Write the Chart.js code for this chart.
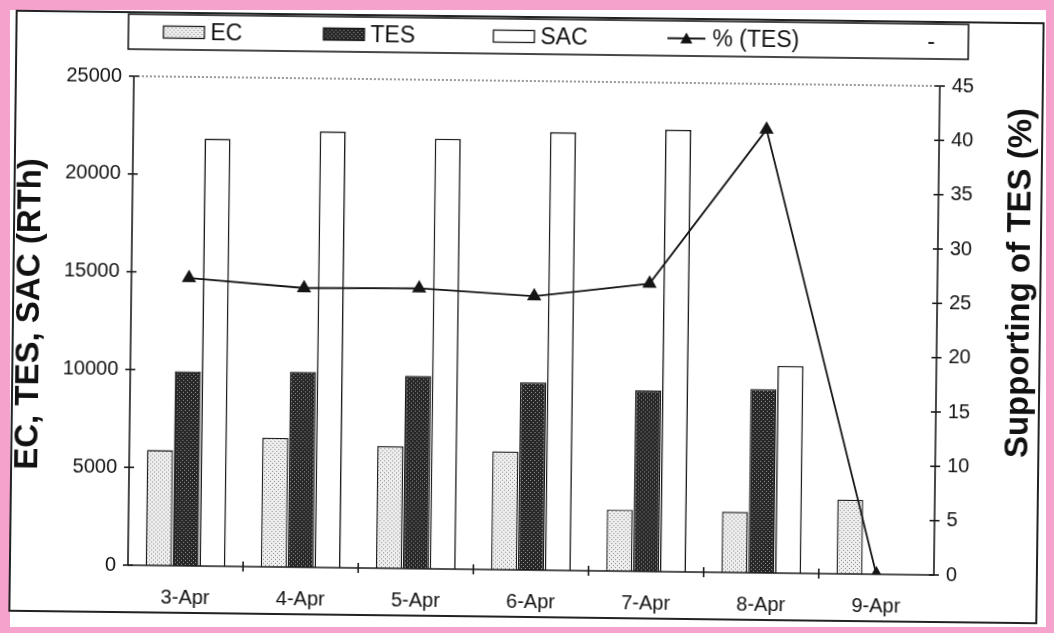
<!DOCTYPE html>
<html>
<head>
<meta charset="utf-8">
<script src="https://cdn.jsdelivr.net/npm/chart.js@4/dist/chart.umd.min.js"></script>
<style>
  html, body { margin: 0; padding: 0; width: 1054px; height: 633px; overflow: hidden; background: #f5a3cd; }
  #paper { position: absolute; left: 10px; top: 10px; width: 1036px; height: 617px; background: #ffffff; }
  #wrap { position: absolute; left: 0; top: 0; width: 1054px; height: 633px; transform: rotate(0.7deg); transform-origin: 527px 316px; }
  #frame { position: absolute; left: 12px; top: 16px; width: 1029px; height: 602px; border: 2px solid #222; box-sizing: border-box; }
  canvas { position: absolute; left: 0; top: 0; }
</style>
</head>
<body>
<div id="paper"></div>
<div id="wrap">
  <div id="frame"></div>
  <canvas id="chart" width="1054" height="633"></canvas>
</div>
<script>
// Daily cooling load split (RTh) and share supported by TES (%)
const categories = ['3-Apr', '4-Apr', '5-Apr', '6-Apr', '7-Apr', '8-Apr', '9-Apr'];
const ecValues   = [5900, 6600, 6250, 6050, 3150, 3100, 3800];
const tesValues  = [9950, 10000, 9850, 9600, 9250, 9400, 0];
const sacValues  = [21850, 22300, 22000, 22400, 22600, 10600, 0];
const tesPercent = [26.5, 25.7, 25.8, 25.2, 26.5, 40.8, 0];

const leftAxisMax = 25000, leftAxisStep = 5000;
const rightAxisMax = 45, rightAxisStep = 5;
const leftTitle = 'EC, TES, SAC (RTh)';
const rightTitle = 'Supporting of TES (%)';

const canvas = document.getElementById('chart');
const ctx = canvas.getContext('2d');

function makePattern(bg, dot, size, pts) {
  const c = document.createElement('canvas');
  c.width = size; c.height = size;
  const g = c.getContext('2d');
  g.fillStyle = bg; g.fillRect(0, 0, size, size);
  g.fillStyle = dot;
  pts.forEach(([x, y]) => g.fillRect(x, y, 1, 1));
  return ctx.createPattern(c, 'repeat');
}
const ecFill  = makePattern('#eeeeee', '#8c8c8c', 4, [[0, 0], [2, 2]]);
const tesFill = makePattern('#262626', '#9a9a9a', 4, [[0, 0], [2, 2]]);
const sacFill = '#ffffff';

const FONT = '"Liberation Sans", Arial, sans-serif';

// axis lines with crossing tick marks, dotted top edge, rotated titles, boxed legend
const decorations = {
  id: 'decorations',
  afterDatasetsDraw(chart) {
    const { ctx: c, chartArea: a, scales } = chart;
    c.save();
    c.strokeStyle = '#1a1a1a';
    c.lineWidth = 1.6;
    [[a.left, scales.y], [a.right, scales.y1]].forEach(([x, s]) => {
      c.beginPath(); c.moveTo(x, a.top); c.lineTo(x, a.bottom); c.stroke();
      s.ticks.forEach((t, i) => {
        const y = s.getPixelForTick(i);
        c.beginPath(); c.moveTo(x - 5, y); c.lineTo(x + 5, y); c.stroke();
      });
    });
    c.beginPath(); c.moveTo(a.left, a.bottom); c.lineTo(a.right, a.bottom); c.stroke();
    const xs = scales.x;
    for (let i = 1; i < categories.length; i++) {
      const x = (xs.getPixelForTick(i - 1) + xs.getPixelForTick(i)) / 2;
      c.beginPath(); c.moveTo(x, a.bottom - 5); c.lineTo(x, a.bottom + 5); c.stroke();
    }
    c.setLineDash([2, 2]);
    c.lineWidth = 1.2;
    c.strokeStyle = '#555';
    c.beginPath(); c.moveTo(a.left, a.top); c.lineTo(a.right, a.top); c.stroke();
    c.setLineDash([]);
    c.restore();
  },
  afterDraw(chart) {
    const { ctx: c, chartArea: a } = chart;
    c.save();
    c.fillStyle = '#111';
    c.font = 'bold 33px ' + FONT;
    c.textAlign = 'center';
    c.textBaseline = 'middle';
    c.save(); c.translate(30, 320); c.rotate(-Math.PI / 2); c.fillText(leftTitle, 0, 0); c.restore();
    c.save(); c.translate(1020, 277); c.rotate(-Math.PI / 2); c.fillText(rightTitle, 0, 0); c.restore();

    // legend
    const box = { x: 125, y: 19, w: 840, h: 35 };
    c.strokeStyle = '#1a1a1a';
    c.lineWidth = 1.6;
    c.strokeRect(box.x, box.y, box.w, box.h);
    const cy = box.y + box.h / 2;
    c.font = '23px ' + FONT;
    c.textAlign = 'left';
    const ds = chart.data.datasets;
    const barItems = [[ds[1], 160], [ds[2], 320], [ds[3], 490]];
    barItems.forEach(([d, x]) => {
      c.fillStyle = d.backgroundColor;
      c.fillRect(x, cy - 6, 41, 12);
      c.lineWidth = 1.3;
      c.strokeRect(x, cy - 6, 41, 12);
      c.fillStyle = '#111';
      c.fillText(d.label, x + 47, cy + 1);
    });
    const lx = 664;
    c.lineWidth = 1.8;
    c.beginPath(); c.moveTo(lx, cy); c.lineTo(lx + 38, cy); c.stroke();
    c.fillStyle = '#111';
    c.beginPath(); c.moveTo(lx + 19, cy - 6); c.lineTo(lx + 25, cy + 5); c.lineTo(lx + 13, cy + 5); c.closePath(); c.fill();
    c.fillText(ds[0].label, lx + 45, cy + 1);
    c.fillText('-', 924, cy + 1);
    c.restore();
  }
};

const plainNumber = v => String(v);

new Chart(ctx, {
  data: {
    labels: categories,
    datasets: [
      {
        type: 'line', label: '% (TES)', data: tesPercent, yAxisID: 'y1', order: 0,
        borderColor: '#151515', borderWidth: 1.8, tension: 0,
        pointStyle: 'triangle', pointRadius: 6.5, pointBackgroundColor: '#151515', pointBorderColor: '#151515'
      },
      { type: 'bar', label: 'EC',  data: ecValues,  yAxisID: 'y', order: 1, backgroundColor: ecFill,  borderColor: '#1a1a1a', borderWidth: 1.4 },
      { type: 'bar', label: 'TES', data: tesValues, yAxisID: 'y', order: 1, backgroundColor: tesFill, borderColor: '#1a1a1a', borderWidth: 1.4 },
      { type: 'bar', label: 'SAC', data: sacValues, yAxisID: 'y', order: 1, backgroundColor: sacFill, borderColor: '#1a1a1a', borderWidth: 1.6 }
    ]
  },
  options: {
    responsive: false,
    animation: false,
    devicePixelRatio: 1,
    layout: { padding: { top: 81, left: 0, right: 0, bottom: 0 } },
    categoryPercentage: 0.7,
    barPercentage: 0.97,
    plugins: { legend: { display: false }, tooltip: { enabled: false } },
    scales: {
      x: {
        offset: true,
        grid: { display: false, drawTicks: false },
        border: { display: false },
        ticks: { autoSkip: false, maxRotation: 0, padding: 20, color: '#111', font: { family: FONT, size: 20 } },
        afterFit(s) { s.height = 63; }
      },
      y: {
        position: 'left', min: 0, max: leftAxisMax,
        grid: { display: false, drawTicks: false },
        border: { display: false },
        ticks: { stepSize: leftAxisStep, padding: 12, color: '#111', font: { family: FONT, size: 20 }, callback: plainNumber },
        afterFit(s) { s.width = 131; }
      },
      y1: {
        position: 'right', min: 0, max: rightAxisMax,
        grid: { display: false, drawTicks: false },
        border: { display: false },
        ticks: { stepSize: rightAxisStep, padding: 12, color: '#111', font: { family: FONT, size: 20 }, callback: plainNumber },
        afterFit(s) { s.width = 117; }
      }
    }
  },
  plugins: [decorations]
});
</script>
</body>
</html>
